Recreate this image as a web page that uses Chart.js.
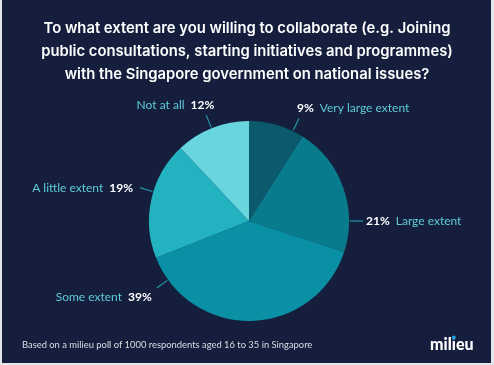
<!DOCTYPE html>
<html>
<head>
<meta charset="utf-8">
<script src="https://cdn.jsdelivr.net/npm/chart.js@4"></script>
<style>
  html, body { margin: 0; padding: 0; background: #e4e6ec; }
  #wrap { position: absolute; left: 0; top: 0; width: 494px; height: 365px; }
</style>
</head>
<body>
<div id="wrap"><canvas id="chart" width="494" height="365"></canvas></div>
<script>
const TITLE_LINES = [
  "To what extent are you willing to collaborate (e.g. Joining",
  "public consultations, starting initiatives and programmes)",
  "with the Singapore government on national issues?",
]
const CATEGORIES = ["Very large extent", "Large extent", "Some extent", "A little extent", "Not at all"]
const PERCENTS = [9, 21, 39, 19, 12]
const FOOTNOTE = "Based on a milieu poll of 1000 respondents aged 16 to 35 in Singapore"
const BRAND = "milieu"

const COLOR_BG = "#151f3d"
const COLOR_LABEL = "#5fcbd8"
const COLOR_LEADER = "#2596a8"
const SLICE_COLORS = ["#0b596d", "#087c8d", "#0a90a4", "#23b2bf", "#69d5df"]
const FONT = "Lato, 'Open Sans', sans-serif"
const LABEL_PX = 12

// label placement: angle (deg clockwise from top) of the leader line, side, text offset from line end
const LABEL_STYLE = [
  { angle: 26, side: "right", dx: -2, dy: -10 },
  { angle: 90, side: "right", dx: 3, dy: 0 },
  { angle: 234, side: "left", dx: -5, dy: 9 },
  { angle: 287, side: "left", dx: -7, dy: 0 },
  { angle: 338, side: "left", dx: 8, dy: -10 },
]

const frame = {
  id: "frame",
  beforeDraw(chart) {
    const ctx = chart.ctx
    ctx.save()
    ctx.fillStyle = COLOR_BG
    ctx.fillRect(2, 0, 489, 363)
    ctx.restore()
  },
  afterDraw(chart) {
    const ctx = chart.ctx
    const arc = chart.getDatasetMeta(0).data[0]
    const cx = arc.x, cy = arc.y, r = arc.outerRadius
    ctx.save()

    // title
    ctx.fillStyle = "#ffffff"
    ctx.textAlign = "center"
    ctx.textBaseline = "middle"
    ctx.font = "600 14.8px Inter, sans-serif"
    TITLE_LINES.forEach((line, i) => ctx.fillText(line, 247, 29 + i * 23))

    // slice labels
    PERCENTS.forEach((p, i) => {
      const st = LABEL_STYLE[i]
      const a = (st.angle * Math.PI) / 180
      const x1 = cx + Math.sin(a) * (r + 1), y1 = cy - Math.cos(a) * (r + 1)
      const x2 = cx + Math.sin(a) * (r + 14), y2 = cy - Math.cos(a) * (r + 14)
      ctx.strokeStyle = COLOR_LEADER
      ctx.lineWidth = 1.2
      ctx.beginPath()
      ctx.moveTo(x1, y1)
      ctx.lineTo(x2, y2)
      ctx.stroke()

      const pct = p + "%"
      const tx = x2 + st.dx, ty = y2 + st.dy
      const bold = "bold " + LABEL_PX + "px " + FONT
      const reg = LABEL_PX + "px " + FONT
      ctx.textBaseline = "middle"
      ctx.textAlign = "left"
      ctx.font = bold
      const wp = ctx.measureText(pct).width
      ctx.font = reg
      const wl = ctx.measureText(CATEGORIES[i]).width
      const gap = 6
      const total = wp + gap + wl
      const x = st.side === "right" ? tx : tx - total
      if (st.side === "right") {
        ctx.font = bold
        ctx.fillStyle = "#ffffff"
        ctx.fillText(pct, x, ty)
        ctx.font = reg
        ctx.fillStyle = COLOR_LABEL
        ctx.fillText(CATEGORIES[i], x + wp + gap, ty)
      } else {
        ctx.font = reg
        ctx.fillStyle = COLOR_LABEL
        ctx.fillText(CATEGORIES[i], x, ty)
        ctx.font = bold
        ctx.fillStyle = "#ffffff"
        ctx.fillText(pct, x + wl + gap, ty)
      }
    })

    // footnote
    ctx.textAlign = "left"
    ctx.font = "9.4px " + FONT
    ctx.fillStyle = "#d9dde6"
    ctx.fillText(FOOTNOTE, 22, 345)

    // brand
    ctx.font = "900 16px " + FONT
    ctx.fillStyle = "#ffffff"
    ctx.fillText(BRAND, 430, 345)
    const wMil = ctx.measureText("mil").width
    const wI = ctx.measureText("i").width
    ctx.fillStyle = COLOR_BG
    ctx.fillRect(430 + wMil - 0.5, 335, wI + 1, 4.5)
    ctx.fillStyle = "#1fa4e0"
    ctx.beginPath()
    ctx.arc(430 + wMil + wI / 2, 337.5, 1.9, 0, Math.PI * 2)
    ctx.fill()

    ctx.restore()
  },
}

new Chart(document.getElementById("chart"), {
  type: "pie",
  data: {
    labels: CATEGORIES,
    datasets: [{
      data: PERCENTS,
      backgroundColor: SLICE_COLORS,
      borderWidth: 0,
      hoverOffset: 0,
    }],
  },
  options: {
    responsive: false,
    animation: false,
    layout: { padding: { left: 149, right: 145, top: 121, bottom: 44 } },
    plugins: {
      legend: { display: false },
      tooltip: { enabled: false },
    },
  },
  plugins: [frame],
})
</script>
</body>
</html>
